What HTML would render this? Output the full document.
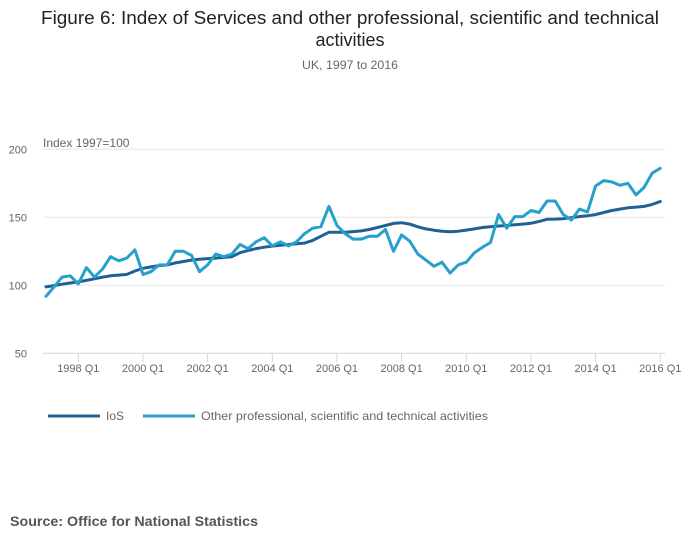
<!DOCTYPE html>
<html><head><meta charset="utf-8"><style>
body{margin:0;background:#fff;width:700px;height:549px;overflow:hidden;font-family:"Liberation Sans",sans-serif}
</style></head><body>
<svg id="chart" width="700" height="549" xmlns="http://www.w3.org/2000/svg" font-family="Liberation Sans, sans-serif">
<text x="350" y="24" text-anchor="middle" font-size="18" fill="#222" textLength="618" lengthAdjust="spacingAndGlyphs">Figure 6: Index of Services and other professional, scientific and technical</text>
<text x="350" y="46" text-anchor="middle" font-size="18" fill="#222">activities</text>
<text x="350" y="69" text-anchor="middle" font-size="12" fill="#666" textLength="96" lengthAdjust="spacingAndGlyphs">UK, 1997 to 2016</text>
<text x="43" y="147" font-size="12" fill="#666">Index 1997=100</text>
<g id="grid"></g><g id="xaxis"></g><g id="series"></g>
<g>
<line x1="48" y1="416" x2="100" y2="416" stroke="#206095" stroke-width="3"/>
<text x="106" y="420" font-size="12" fill="#666">IoS</text>
<line x1="143" y1="416" x2="195" y2="416" stroke="#27a0cc" stroke-width="3"/>
<text x="201" y="420" font-size="12" fill="#666" textLength="287" lengthAdjust="spacingAndGlyphs">Other professional, scientific and technical activities</text>
</g>
<text x="10" y="526" font-size="14" font-weight="bold" fill="#555" textLength="248" lengthAdjust="spacingAndGlyphs">Source: Office for National Statistics</text>
</svg>
<script>
const yTicks=[50,100,150,200];
const xTickLabels=["1998 Q1","2000 Q1","2002 Q1","2004 Q1","2006 Q1","2008 Q1","2010 Q1","2012 Q1","2014 Q1","2016 Q1"];
const xTickIndex=[4,12,20,28,36,44,52,60,68,76];
const iosValues=[98.8,99.8,100.8,101.7,102.5,103.6,104.8,106,107,107.5,108,110.5,112.5,113.5,114.5,115,116.5,117.5,118.5,119.2,119.6,120,120.5,121,124,125.5,127,128,128.8,129.5,130,130.5,131,133,136,139,139,139,139.5,140,141,142.5,144,145.5,146,145,143,141.5,140.5,139.8,139.4,139.8,140.6,141.5,142.5,143,143.6,144,144.5,145,145.6,147,148.5,148.7,149,149.8,150.5,151.2,152,153.5,155,156,157,157.5,158,159.5,161.6];
const otherValues=[91.9,98.8,106,107,101,113,106,112,121,118,120,126,108,110,115,115,125,125,122,110,115,123,121,123,130,127,132,135,129,132,129,132,138,142,143,158,144,138,134,134,136,136,141,125,137,132.5,123,118.5,114,117,109,115,117,124,128,131.5,152,142,150.5,150.5,155,153.5,162,162,152,148,156,154,173,177,176,173.5,175,166.5,172,182.5,186];
const NS="http://www.w3.org/2000/svg";
const x0=45.97,dx=8.083;
function xs(i){return x0+i*dx;}
function ys(v){return 285.3-(v-100)*68/50;}
const grid=document.getElementById('grid');
yTicks.forEach(t=>{
 const l=document.createElementNS(NS,'line');
 
 
 l.setAttribute('x1',43);l.setAttribute('x2',665);l.setAttribute('y1',ys(t));l.setAttribute('y2',ys(t));
 l.setAttribute('stroke',t===50?'#ccd6eb':'#e6e6e6');l.setAttribute('stroke-width',1);
 grid.appendChild(l);
 const tx=document.createElementNS(NS,'text');
 
 
 tx.setAttribute('x',27);tx.setAttribute('y',ys(t)+4);tx.setAttribute('text-anchor','end');
 tx.setAttribute('font-size','11');tx.setAttribute('fill','#666');tx.textContent=t;
 grid.appendChild(tx);
});
const xa=document.getElementById('xaxis');
xTickLabels.forEach((lab,k)=>{
 const x=xs(xTickIndex[k]);
 const l=document.createElementNS(NS,'line');
 
 
 l.setAttribute('x1',x);l.setAttribute('x2',x);l.setAttribute('y1',353);l.setAttribute('y2',362);
 l.setAttribute('stroke','#ccd6eb');xa.appendChild(l);
 const tx=document.createElementNS(NS,'text');
 
 
 tx.setAttribute('x',x);tx.setAttribute('y',372);tx.setAttribute('text-anchor','middle');
 tx.setAttribute('font-size','11');tx.setAttribute('fill','#666');tx.textContent=lab;
 xa.appendChild(tx);
});
const sg=document.getElementById('series');
function drawLine(vals,color,name){
 const p=document.createElementNS(NS,'path');
 
 
 p.setAttribute('d',vals.map((v,i)=>(i?'L':'M')+xs(i).toFixed(1)+' '+ys(v).toFixed(1)).join(''));
 p.setAttribute('fill','none');p.setAttribute('stroke',color);p.setAttribute('stroke-width',3);
 p.setAttribute('stroke-linejoin','round');p.setAttribute('stroke-linecap','round');
 sg.appendChild(p);
}
drawLine(iosValues,'#206095','ios-line');
drawLine(otherValues,'#27a0cc','other-line');
</script>
</body></html>
